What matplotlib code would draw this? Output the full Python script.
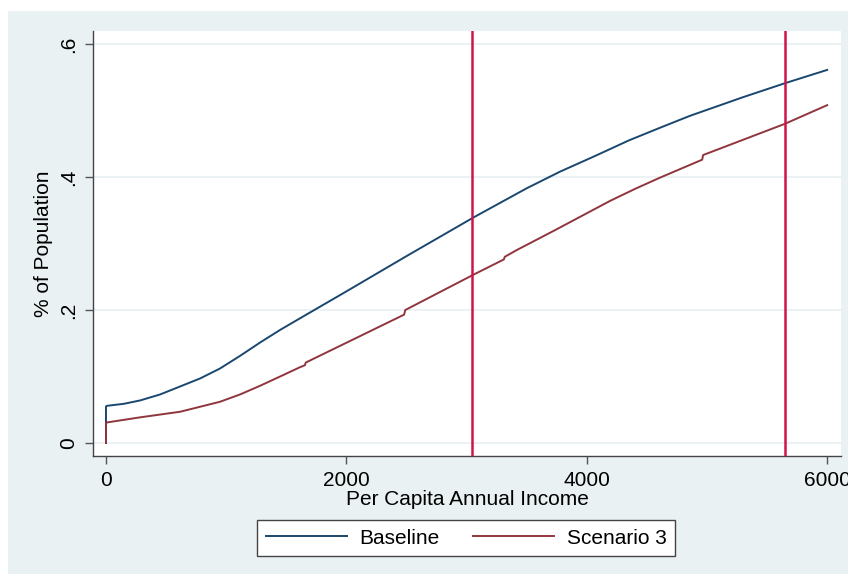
import matplotlib.pyplot as plt
from matplotlib.patches import Rectangle

plt.rcParams['font.family'] = ['Liberation Sans', 'DejaVu Sans']

# cumulative share of population below each income level
base_x = [0, 0, 10, 150, 283, 450, 616, 782, 948, 1115, 1281, 1448, 1614, 2000,
          2500, 3056, 3500, 3777, 4000, 4110, 4350, 4609, 4859, 5300, 5649, 6000]
base_y = [0, 0.055, 0.056, 0.059, 0.064, 0.073, 0.085, 0.097, 0.112, 0.131,
          0.151, 0.170, 0.1875, 0.228, 0.281, 0.339, 0.383, 0.408, 0.426,
          0.435, 0.455, 0.474, 0.492, 0.520, 0.541, 0.561]

scen_x = [0, 0, 10, 283, 616, 948, 1115, 1281, 1448, 1614, 1655, 1662,
          2480, 2490, 3056, 3310, 3318, 3416, 3735, 4193, 4400, 4609, 4960,
          4968, 5649, 6000]
scen_y = [0, 0.030, 0.031, 0.0386, 0.047, 0.062, 0.073, 0.086, 0.100, 0.114,
          0.117, 0.121, 0.193, 0.200, 0.253, 0.276, 0.280, 0.290, 0.320,
          0.364, 0.382, 0.399, 0.426, 0.433, 0.480, 0.508]

cutoffs = [3045, 5649]
xticks = [0, 2000, 4000, 6000]
yticks = [0, 0.2, 0.4, 0.6]
ytick_labels = ["0", ".2", ".4", ".6"]

fs = 15
bg = "#EAF1F3"
fig = plt.figure(figsize=(8.48, 5.74), dpi=100, facecolor="white")
fig.patches.append(Rectangle((8 / 848, 0), 1, 1 - 11 / 574, transform=fig.transFigure,
                             facecolor=bg, edgecolor="none", zorder=-5))

ax = fig.add_axes([93 / 848, (574 - 456) / 574, (841 - 93) / 848, (456 - 31) / 574])
ax.set_zorder(2)
ax.set_facecolor("white")

for v in yticks:
    ax.axhline(v, color=bg, lw=1.3, zorder=1)

ax.plot(base_x, base_y, color="#1A476F", lw=1.4, label="Baseline", zorder=3)
ax.plot(scen_x, scen_y, color="#90353B", lw=1.4, label="Scenario 3", zorder=3)
for c in cutoffs:
    ax.axvline(c, color="#D0144A", lw=1.8, zorder=4)

ax.set_xlim(-108, 6115)
ax.set_ylim(-0.0195, 0.6195)
ax.set_xticks(xticks)
ax.set_xticklabels([str(t) for t in xticks], fontsize=fs)
ax.set_yticks(yticks)
ax.set_yticklabels(ytick_labels, fontsize=fs, rotation=90, va="center")
ax.tick_params(axis="both", direction="out", length=6, width=1, color="#555555", pad=5)

for s in ["top", "right"]:
    ax.spines[s].set_visible(False)
for s in ["left", "bottom"]:
    ax.spines[s].set_color("#444444")
    ax.spines[s].set_linewidth(1.0)

ax.set_xlabel("Per Capita Annual Income", fontsize=fs, labelpad=0)
ax.set_ylabel("% of Population", fontsize=fs, labelpad=4)

leg = fig.legend(loc="center", bbox_to_anchor=(466 / 848, 1 - 538 / 574), ncol=2,
                 fontsize=fs, frameon=True, fancybox=False, framealpha=1,
                 handlelength=3.9, columnspacing=1.6, borderpad=0.4,
                 handletextpad=0.6)
leg.get_frame().set_edgecolor("#444444")
leg.get_frame().set_linewidth(1.0)

fig.savefig("out.png", dpi=100, facecolor=fig.get_facecolor())
